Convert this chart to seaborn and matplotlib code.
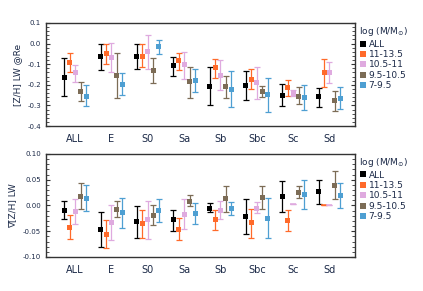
import numpy as np
import pandas as pd
import matplotlib
matplotlib.use("Agg")
import matplotlib.pyplot as plt
from matplotlib.ticker import MultipleLocator
import seaborn as sns

# galaxy types and mass bins
types = ["ALL", "E", "S0", "Sa", "Sb", "Sbc", "Sc", "Sd"]
mass_bins = ["ALL", "11-13.5", "10.5-11", "9.5-10.5", "7-9.5"]
colors = ["#000000", "#ff6a2a", "#dfaadf", "#7c6c56", "#4e9fd2"]

# --- [Z/H] LW @Re : value, upper end, lower end (per mass bin, per type)
zh_val = {
    "ALL":      [-0.163, -0.061, -0.061, -0.105, -0.206, -0.203, -0.250, -0.258],
    "11-13.5":  [-0.090, -0.048, -0.061, -0.084, -0.118, -0.173, -0.215, -0.140],
    "10.5-11":  [-0.142, -0.068, -0.039, -0.103, -0.153, -0.190, -0.240, -0.140],
    "9.5-10.5": [-0.234, -0.156, -0.129, -0.185, -0.210, -0.232, -0.255, -0.277],
    "7-9.5":    [-0.255, -0.197, -0.016, -0.181, -0.221, -0.248, -0.263, -0.265],
}
zh_hi = {
    "ALL":      [-0.071, 0.000, -0.003, -0.063, -0.115, -0.135, -0.197, -0.216],
    "11-13.5":  [-0.047, 0.000, -0.003, -0.044, -0.077, -0.124, -0.179, -0.077],
    "10.5-11":  [-0.106, 0.005, 0.040, -0.039, -0.082, -0.115, -0.226, -0.090],
    "9.5-10.5": [-0.187, -0.047, -0.071, -0.116, -0.155, -0.206, -0.213, -0.229],
    "7-9.5":    [-0.200, -0.144, 0.016, -0.124, -0.135, -0.169, -0.202, -0.211],
}
zh_lo = {
    "ALL":      [-0.252, -0.126, -0.121, -0.155, -0.300, -0.273, -0.303, -0.310],
    "11-13.5":  [-0.139, -0.100, -0.116, -0.126, -0.168, -0.221, -0.253, -0.211],
    "10.5-11":  [-0.187, -0.140, -0.121, -0.174, -0.226, -0.268, -0.255, -0.189],
    "9.5-10.5": [-0.279, -0.265, -0.190, -0.266, -0.266, -0.260, -0.294, -0.329],
    "7-9.5":    [-0.303, -0.250, -0.052, -0.237, -0.310, -0.332, -0.321, -0.318],
}

# --- gradient of [Z/H] LW
grad_val = {
    "ALL":      [-0.009, -0.047, -0.032, -0.028, -0.005, -0.021, 0.017, 0.027],
    "11-13.5":  [-0.042, -0.056, -0.035, -0.046, -0.028, -0.034, -0.029, 0.000],
    "10.5-11":  [-0.012, -0.033, -0.028, -0.018, -0.009, -0.005, 0.002, 0.000],
    "9.5-10.5": [0.017, -0.007, -0.019, 0.008, 0.013, 0.016, 0.025, 0.039],
    "7-9.5":    [0.013, -0.014, -0.010, -0.016, -0.006, -0.025, 0.021, 0.019],
}
grad_hi = {
    "ALL":      [0.008, -0.013, -0.002, -0.009, 0.004, 0.012, 0.047, 0.049],
    "11-13.5":  [-0.019, -0.028, -0.008, -0.025, -0.008, -0.006, -0.009, 0.000],
    "10.5-11":  [0.012, 0.000, 0.008, 0.012, 0.008, 0.006, 0.002, 0.000],
    "9.5-10.5": [0.043, 0.008, 0.000, 0.020, 0.038, 0.038, 0.038, 0.067],
    "7-9.5":    [0.039, 0.014, 0.012, 0.005, 0.006, 0.014, 0.049, 0.043],
}
grad_lo = {
    "ALL":      [-0.026, -0.081, -0.063, -0.049, -0.012, -0.056, -0.013, 0.003],
    "11-13.5":  [-0.065, -0.083, -0.063, -0.067, -0.048, -0.063, -0.049, 0.000],
    "10.5-11":  [-0.036, -0.067, -0.065, -0.046, -0.026, -0.014, 0.002, 0.000],
    "9.5-10.5": [-0.006, -0.023, -0.038, -0.001, -0.012, -0.006, 0.014, 0.012],
    "7-9.5":    [-0.011, -0.043, -0.033, -0.036, -0.019, -0.063, -0.007, -0.005],
}


def draw_panel(ax, val, hi, lo, ylabel, ylim, major, minor, fmt):
    offsets = np.linspace(-0.3, 0.3, len(mass_bins))
    rows = []
    for k, m in enumerate(mass_bins):
        for i, t in enumerate(types):
            rows.append(dict(x=i + offsets[k], y=val[m][i], hi=hi[m][i],
                             lo=lo[m][i], mass=m))
    df = pd.DataFrame(rows)
    for k, m in enumerate(mass_bins):
        d = df[df["mass"] == m]
        ax.errorbar(d["x"], d["y"], yerr=[d["y"] - d["lo"], d["hi"] - d["y"]],
                    fmt="none", ecolor=colors[k], elinewidth=0.9, capsize=2.0,
                    capthick=0.9, zorder=2)
    flat = (df["hi"] - df["lo"]) == 0
    sns.scatterplot(data=df[~flat], x="x", y="y", hue="mass", hue_order=mass_bins,
                    palette=colors, marker="s", s=13, edgecolor="none",
                    ax=ax, zorder=3)
    for k, m in enumerate(mass_bins):
        d = df[flat & (df["mass"] == m)]
        if len(d):
            ax.scatter(d["x"], d["y"], marker="_", s=25, color=colors[k],
                       linewidths=1.1, zorder=3)

    ax.set_xlim(-0.8, 7.7)
    ax.set_ylim(*ylim)
    ax.set_xticks(range(len(types)))
    ax.set_xticklabels(types)
    ax.yaxis.set_major_locator(MultipleLocator(major))
    ax.yaxis.set_minor_locator(MultipleLocator(minor))
    ax.yaxis.set_major_formatter(plt.FormatStrFormatter(fmt))
    ax.tick_params(axis="y", which="both", direction="in", left=True, right=True,
                   labelsize=5, colors="#333333", labelcolor="#1c2a48")
    ax.tick_params(axis="y", which="major", length=3)
    ax.tick_params(axis="y", which="minor", length=2)
    ax.tick_params(axis="x", length=0, labelsize=7, labelcolor="#1c2a48", pad=6)
    ax.set_xlabel("")
    ax.set_ylabel(ylabel, fontsize=6.5, color="#1c2a48")
    for sp in ax.spines.values():
        sp.set_linewidth(1.0)
        sp.set_color("#333333")
        sp.set_visible(True)

    handles, labels = ax.get_legend_handles_labels()
    leg = ax.legend(handles, labels, title=r"log (M/M$_{\odot}$)",
                    loc="upper left", bbox_to_anchor=(0.995, 1.03),
                    frameon=False, fontsize=6.5, title_fontsize=6.5,
                    handletextpad=0.1, labelspacing=0.15, borderaxespad=0.2,
                    handlelength=1.0, alignment="left", markerscale=1.3)
    for txt in leg.get_texts():
        txt.set_color("#1c2a48")
    leg.get_title().set_color("#1c2a48")


sns.set_style("ticks")
plt.rcParams["font.family"] = ["DejaVu Sans"]

fig = plt.figure(figsize=(4.23, 2.91), dpi=100)
ax1 = fig.add_axes([0.109, 0.567, 0.730, 0.354])
ax2 = fig.add_axes([0.109, 0.117, 0.730, 0.354])

draw_panel(ax1, zh_val, zh_hi, zh_lo, "[Z/H] LW @Re", (-0.4, 0.1), 0.1, 0.02, "%.1f")
draw_panel(ax2, grad_val, grad_hi, grad_lo, "\u2207[Z/H] LW", (-0.1, 0.1), 0.05, 0.01, "%.2f")

fig.savefig("out.png", dpi=100)
